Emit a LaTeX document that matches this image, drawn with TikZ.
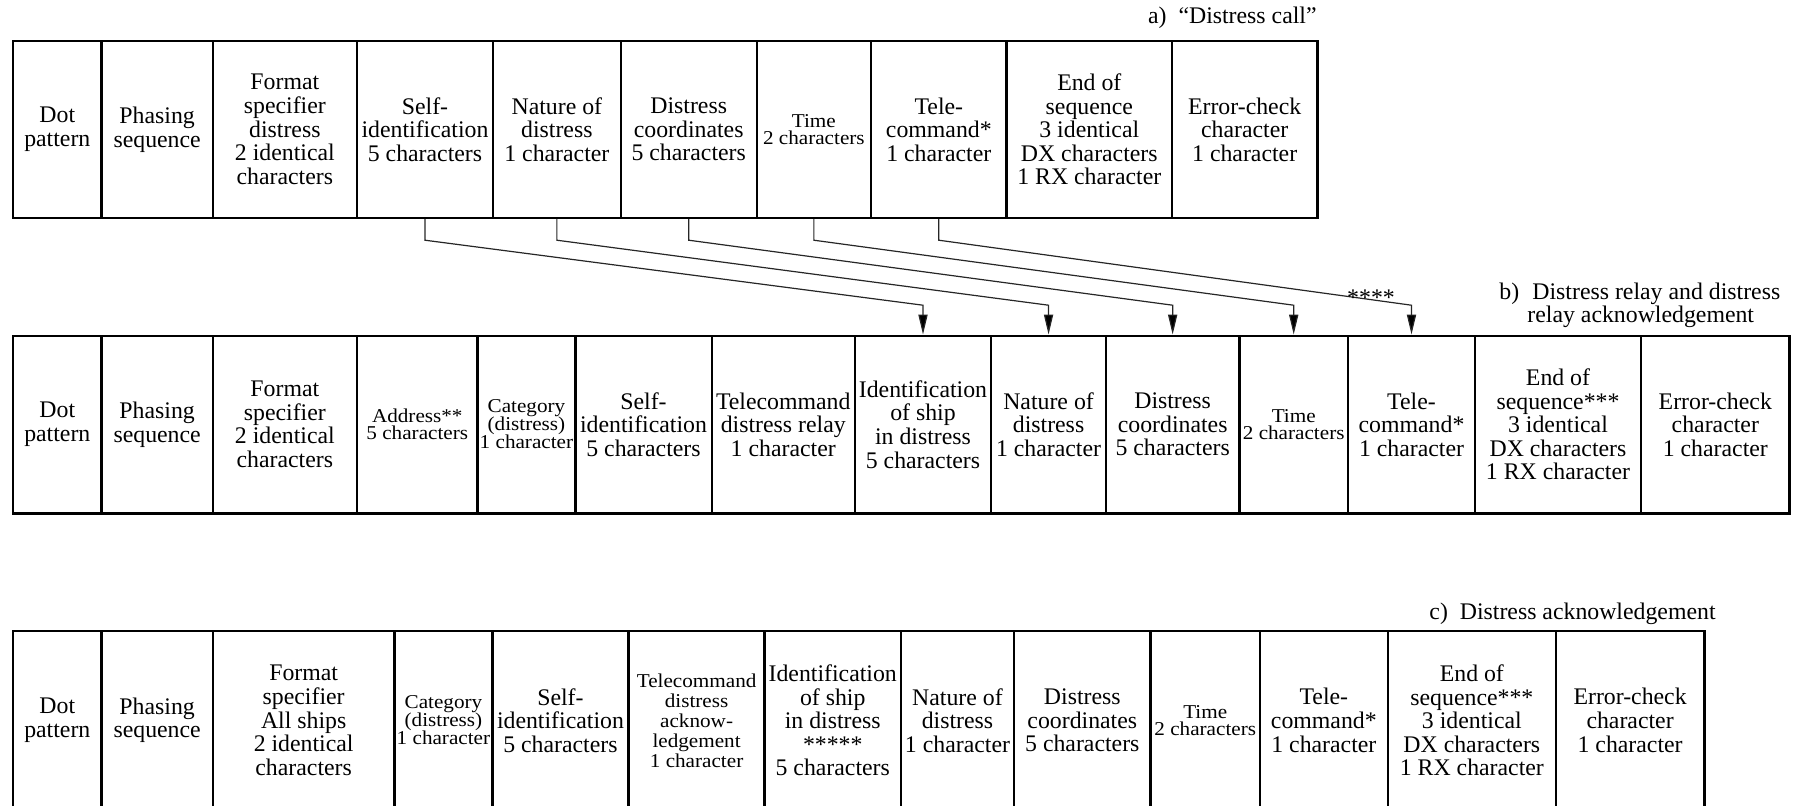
\documentclass[tikz,border=0pt]{standalone}
\usepackage{fontspec}
\setmainfont{Liberation Serif}
\newfontfamily\stretchserif[FakeStretch=1.08]{Liberation Serif}
\usetikzlibrary{arrows.meta,calc}
\newcommand\cellfnt{\fontsize{11.9}{11.8}\selectfont}
\newcommand\cellsmallfnt[1]{\stretchserif\fontsize{9.8}{#1}\selectfont}
% style, name, x1, x2, y1, y2, text
\newcommand\mycell[7]{\node[#1,minimum width={(#4-#3)*0.5pt},minimum height={(#6-#5)*0.5pt}] (#2) at ({(#3+#4)/2},{(#5+#6)/2}) {#7};}
\begin{document}
\begin{tikzpicture}[x=0.5pt,y=-0.5pt,
  cellbox/.style={draw,line width=1.2pt,inner sep=0pt,align=center,font=\cellfnt},
  timecell/.style={cellbox,font=\cellsmallfnt{8.6pt}},
  catcell/.style={cellbox,font=\cellsmallfnt{9pt}},
  addrcell/.style={cellbox,font=\cellsmallfnt{8.6pt}},
  ackcell/.style={cellbox,font=\cellsmallfnt{10pt}},
  link/.style={line width=0.6pt,draw=black!85,-{Triangle[length=10pt,width=4.6pt,fill=black]}},
  lbl/.style={inner sep=0pt,font=\cellfnt}]
\useasboundingbox (0,0) rectangle (1793,805);
\clip (0,0) rectangle (1793,805);
% ---------- row a ----------
\mycell{cellbox}{a1}{13}{101.6}{41}{218}{Dot\\pattern}
\mycell{cellbox}{a2}{101.6}{212.7}{41}{218}{Phasing\\sequence}
\mycell{cellbox}{a3}{212.7}{357}{41}{218}{Format\\specifier\\distress\\2 identical\\characters}
\mycell{cellbox}{a4}{357}{493}{41}{218}{Self-\\identification\\5 characters}
\mycell{cellbox}{a5}{493}{620.7}{41}{218}{Nature of\\distress\\1 character}
\mycell{cellbox}{a6}{620.7}{756.7}{41}{218}{Distress\\coordinates\\5 characters}
\mycell{timecell}{a7}{756.7}{871}{41}{218}{Time\\2 characters}
\mycell{cellbox}{a8}{871}{1006.6}{41}{218}{Tele-\\command*\\1 character}
\mycell{cellbox}{a9}{1006.6}{1172}{41}{218}{End of\\sequence\\3 identical\\DX characters\\1 RX character}
\mycell{cellbox}{a10}{1172}{1317.3}{41}{218}{Error-check\\character\\1 character}
% ---------- row b ----------
\mycell{cellbox}{b1}{13}{101.6}{335.7}{513.3}{Dot\\pattern}
\mycell{cellbox}{b2}{101.6}{212.7}{335.7}{513.3}{Phasing\\sequence}
\mycell{cellbox}{b3}{212.7}{357}{335.7}{513.3}{Format\\specifier\\2 identical\\characters}
\mycell{addrcell}{b4}{357}{477.6}{335.7}{513.3}{Address**\\5 characters}
\mycell{catcell}{b5}{477.6}{575.3}{335.7}{513.3}{Category\\(distress)\\1 character}
\mycell{cellbox}{b6}{575.3}{711.7}{335.7}{513.3}{Self-\\identification\\5 characters}
\mycell{cellbox}{b7}{711.7}{854.8}{335.7}{513.3}{Telecommand\\distress relay\\1 character}
\mycell{cellbox}{b8}{854.8}{991.2}{335.7}{513.3}{Identification\\of ship\\in distress\\5 characters}
\mycell{cellbox}{b9}{991.2}{1105.9}{335.7}{513.3}{Nature of\\distress\\1 character}
\mycell{cellbox}{b10}{1105.9}{1239.4}{335.7}{513.3}{Distress\\coordinates\\5 characters}
\mycell{timecell}{b11}{1239.4}{1348}{335.7}{513.3}{Time\\2 characters}
\mycell{cellbox}{b12}{1348}{1475}{335.7}{513.3}{Tele-\\command*\\1 character}
\mycell{cellbox}{b13}{1475}{1641}{335.7}{513.3}{End of\\sequence***\\3 identical\\DX characters\\1 RX character}
\mycell{cellbox}{b14}{1641}{1789.6}{335.7}{513.3}{Error-check\\character\\1 character}
% ---------- row c ----------
\mycell{cellbox}{c1}{13}{101.6}{630.7}{810}{Dot\\pattern}
\mycell{cellbox}{c2}{101.6}{212.7}{630.7}{810}{Phasing\\sequence}
\mycell{cellbox}{c3}{212.7}{394.6}{630.7}{810}{Format\\specifier\\All ships\\2 identical\\characters}
\mycell{catcell}{c4}{394.6}{492.3}{630.7}{810}{Category\\(distress)\\1 character}
\mycell{cellbox}{c5}{492.3}{628.6}{630.7}{810}{Self-\\identification\\5 characters}
\mycell{ackcell}{c6}{628.6}{764.6}{630.7}{810}{Telecommand\\distress\\acknow-\\ledgement\\1 character}
\mycell{cellbox}{c7}{764.6}{900.9}{630.7}{810}{Identification\\of ship\\in distress\\*****\\5 characters}
\mycell{cellbox}{c8}{900.9}{1014}{630.7}{810}{Nature of\\distress\\1 character}
\mycell{cellbox}{c9}{1014}{1150.6}{630.7}{810}{Distress\\coordinates\\5 characters}
\mycell{timecell}{c10}{1150.6}{1259.9}{630.7}{810}{Time\\2 characters}
\mycell{cellbox}{c11}{1259.9}{1387.8}{630.7}{810}{Tele-\\command*\\1 character}
\mycell{cellbox}{c12}{1387.8}{1555.9}{630.7}{810}{End of\\sequence***\\3 identical\\DX characters\\1 RX character}
\mycell{cellbox}{c13}{1555.9}{1704.3}{630.7}{810}{Error-check\\character\\1 character}
% ---------- labels ----------
\node[lbl,anchor=base east] (la) at (1317,23) {a)\enspace “Distress call”};
\node[lbl,anchor=base west] (lbtag) at (1499,299) {b)};
\node[lbl,anchor=base west] (lb1) at (1532,299) {Distress relay and distress};
\node[lbl,anchor=base west] (lb2) at (1527,322) {relay acknowledgement};
\node[lbl,anchor=base east] (lc) at (1716,619) {c)\enspace Distress acknowledgement};
% ---------- connectors ----------
\draw[link] (a4.south) -- ++(0,21) -- ($(b8.north)+(0,-29.3)$) -- (b8.north);
\draw[link] (a5.south) -- ++(0,21) -- ($(b9.north)+(0,-29.3)$) -- (b9.north);
\draw[link] (a6.south) -- ++(0,21) -- ($(b10.north)+(0,-29.3)$) -- (b10.north);
\draw[link] (a7.south) -- ++(0,21) -- ($(b11.north)+(0,-29.3)$) -- (b11.north);
\draw[link] (a8.south) -- ++(0,21) -- ($(b12.north)+(0,-29.3)$) -- (b12.north);
\node[lbl] (stars) at (1371,298) {****};
\end{tikzpicture}
\end{document}
